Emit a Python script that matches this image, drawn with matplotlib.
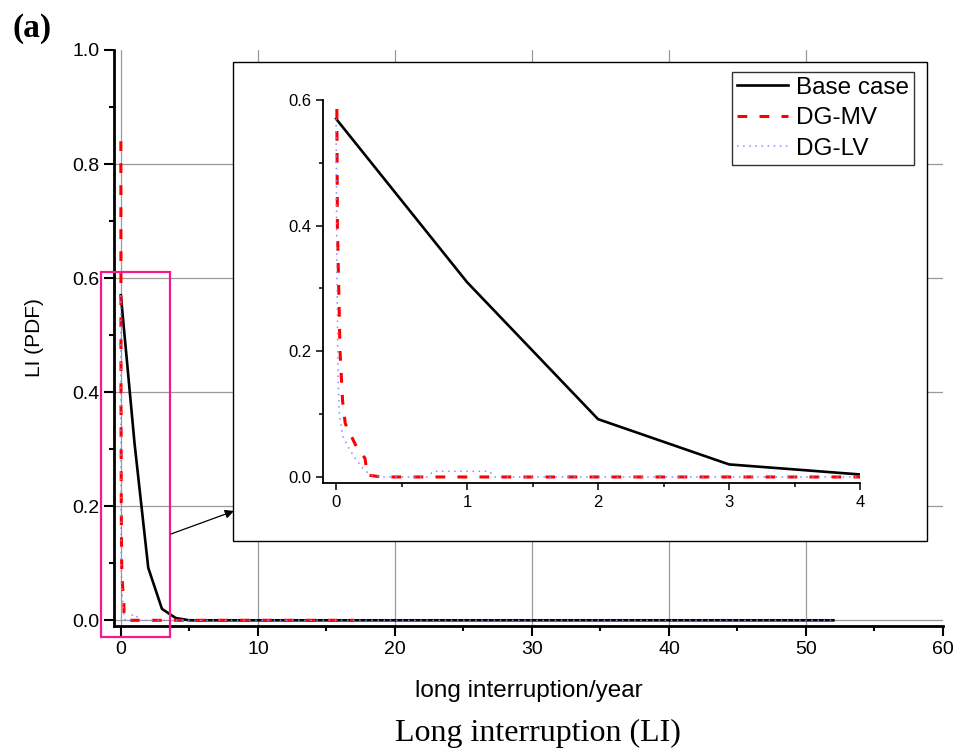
import numpy as np
import matplotlib
matplotlib.use("Agg")
import matplotlib.pyplot as plt
import matplotlib.patches as patches
from matplotlib.ticker import MultipleLocator

plt.rcParams['font.family'] = ['Liberation Sans', 'DejaVu Sans']

# --- data ---
base_x = list(range(0, 53))
base_y = [0.570, 0.310, 0.092, 0.020, 0.004] + [0.0] * 48

mv_x = [0, 0.01, 0.03, 0.05, 0.07, 0.16, 0.22, 0.24, 0.35] + list(range(1, 18))
mv_y = [0.84, 0.40, 0.20, 0.12, 0.085, 0.046, 0.03, 0.003, 0.0] + [0.0] * 17

lv_x = [0, 0.005, 0.015, 0.025, 0.05, 0.1, 0.145, 0.2, 0.26, 0.35,
        0.7, 0.74, 1.17, 1.21] + list(range(2, 53))
lv_y = [0.57, 0.35, 0.16, 0.10, 0.065, 0.045, 0.03, 0.015, 0.003, 0.0,
        0.0, 0.009, 0.009, 0.0] + [0.0] * 51

main_xticks = [0, 10, 20, 30, 40, 50, 60]
main_yticks = [0.0, 0.2, 0.4, 0.6, 0.8, 1.0]
inset_xticks = [0, 1, 2, 3, 4]
inset_yticks = [0.0, 0.2, 0.4, 0.6]

labels = ["Base case", "DG-MV", "DG-LV"]

W, H = 968, 753


def fx(px):
    return px / W


def fy(py):
    return 1 - py / H


fig = plt.figure(figsize=(W / 100, H / 100), dpi=100)

# main axes
ax = fig.add_axes([fx(114), fy(626), fx(943) - fx(114), fy(50) - fy(626)])
ax.plot(base_x, base_y, color="black", lw=1.9)
ax.plot(mv_x, mv_y, color="red", lw=2.2, dashes=(3.2, 4.0))
ax.plot(lv_x, lv_y, color="#8a8aff", lw=1.1, dashes=(1, 3))
ax.set_xlim(-0.5, 60)
ax.set_ylim(-0.01, 1.0)
ax.set_xticks(main_xticks)
ax.set_yticks(main_yticks)
ax.set_yticklabels(["{:.1f}".format(v) for v in main_yticks])
ax.xaxis.set_minor_locator(MultipleLocator(5))
ax.yaxis.set_minor_locator(MultipleLocator(0.1))
ax.tick_params(which="major", direction="out", length=7, width=1.5, labelsize=14)
ax.tick_params(which="minor", direction="out", length=3.5, width=1.5)
for s in ["top", "right"]:
    ax.spines[s].set_visible(False)
for s in ["left", "bottom"]:
    ax.spines[s].set_linewidth(2)
ax.grid(True, which="major", color="#9a9a9a", lw=0.9)
ax.set_axisbelow(True)
ax.xaxis.get_major_ticks()[-1].gridline.set_visible(False)
ax.yaxis.get_major_ticks()[-1].gridline.set_visible(False)
ax.set_xlabel("long interruption/year", fontsize=17.5)
ax.xaxis.set_label_coords(0.5, -0.093)
ax.set_ylabel("LI (PDF)", fontsize=15)
ax.yaxis.set_label_coords(-0.085, 0.5)

# zoom rectangle
rect = patches.Rectangle((-1.48, -0.03), 5.06, 0.64, fill=False,
                         ec="#f7198c", lw=1.6, clip_on=False, zorder=5)
ax.add_patch(rect)

# inset frame
frame = patches.Rectangle((fx(233), fy(541)), fx(927) - fx(233), fy(62) - fy(541),
                          transform=fig.transFigure, fc="white", ec="black", lw=1,
                          zorder=2)
fig.add_artist(frame)

arrow = patches.FancyArrowPatch((fx(171), fy(534)), (fx(234), fy(511)),
                                transform=fig.transFigure, arrowstyle="-|>",
                                mutation_scale=13, color="black", lw=0.9,
                                shrinkA=0, shrinkB=0, zorder=3)
fig.add_artist(arrow)

# inset axes
axi = fig.add_axes([fx(323), fy(483), fx(860) - fx(323), fy(100) - fy(483)], zorder=4)
axi.patch.set_alpha(0)
l1, = axi.plot(base_x, base_y, color="black", lw=1.9)
l2, = axi.plot(mv_x, mv_y, color="red", lw=2.2, dashes=(3.2, 4.0))
l3, = axi.plot(lv_x, lv_y, color="#8a8aff", lw=1.1, dashes=(1, 3))
axi.set_xlim(-0.1, 4)
axi.set_ylim(-0.0096, 0.6)
axi.set_xticks(inset_xticks)
axi.set_yticks(inset_yticks)
axi.set_yticklabels(["{:.1f}".format(v) for v in inset_yticks])
axi.xaxis.set_minor_locator(MultipleLocator(0.5))
axi.yaxis.set_minor_locator(MultipleLocator(0.1))
axi.tick_params(which="major", direction="out", length=5, width=1.1, labelsize=12)
axi.tick_params(which="minor", direction="out", length=3, width=1.1)
for s in ["top", "right"]:
    axi.spines[s].set_visible(False)
for s in ["left", "bottom"]:
    axi.spines[s].set_linewidth(1.3)

leg = axi.legend([l1, l2, l3], labels, loc="upper right",
                 bbox_to_anchor=(fx(914), fy(72)), bbox_transform=fig.transFigure,
                 borderaxespad=0, fontsize=17.5, frameon=True, fancybox=False,
                 handlelength=2.1, handletextpad=0.35, labelspacing=0.35,
                 borderpad=0.2)
leg.get_frame().set_edgecolor("black")
leg.get_frame().set_linewidth(1)

fig.text(fx(538), fy(733), "Long interruption (LI)", ha="center", va="center",
         fontsize=23, family=["Liberation Serif", "DejaVu Serif"])
fig.text(fx(12), fy(28), "(a)", ha="left", va="center", fontsize=24,
         weight="bold", family=["Liberation Serif", "DejaVu Serif"])

fig.savefig("out.png", dpi=100)
